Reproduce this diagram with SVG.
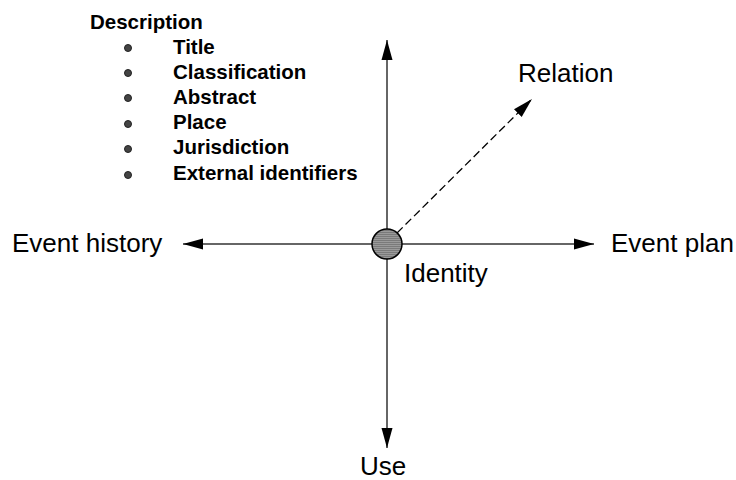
<svg xmlns="http://www.w3.org/2000/svg" width="736" height="480" viewBox="0 0 736 480">
  <style>
    .lbl { font-family: "Liberation Sans", Arial, sans-serif; font-size: 26px; fill: #000; }
    .desc { font-family: "Liberation Sans", Arial, sans-serif; font-size: 20.5px; font-weight: bold; fill: #000; }
    .axis { stroke: #333; stroke-width: 1.5; fill: none; }
    .dash { stroke: #000; stroke-width: 1.3; stroke-dasharray: 8 4; fill: none; }
    .bullet { fill: #444; stroke: #222; stroke-width: 1; }
  </style>
  <defs>
    <marker id="arr" viewBox="0 0 20 12" refX="20" refY="6" markerWidth="20" markerHeight="12" markerUnits="userSpaceOnUse" orient="auto">
      <path d="M0,0.5 L20,6 L0,11.5 Z" fill="#000"/>
    </marker>
    <pattern id="hatch" width="4" height="2" patternUnits="userSpaceOnUse">
      <rect width="4" height="2" fill="#9a9a9a"/>
      <rect width="4" height="1" fill="#7a7a7a"/>
    </pattern>
  </defs>
  <rect width="736" height="480" fill="#fff"/>

  <g id="connectors">
    <line class="axis" x1="387" y1="244" x2="387" y2="40" marker-end="url(#arr)"/>
    <line class="axis" x1="387" y1="244" x2="387" y2="448" marker-end="url(#arr)"/>
    <line class="axis" x1="387" y1="244" x2="183" y2="244" marker-end="url(#arr)"/>
    <line class="axis" x1="387" y1="244" x2="594" y2="244" marker-end="url(#arr)"/>
    <line class="dash" x1="397" y1="233" x2="532" y2="99" marker-end="url(#arr)"/>
  </g>

  <g id="identity">
    <circle cx="387" cy="244" r="15" fill="url(#hatch)" stroke="#000" stroke-width="1.5"/>
    <text class="lbl" x="404" y="282">Identity</text>
  </g>

  <g id="relation">
    <text class="lbl" x="518" y="82">Relation</text>
  </g>

  <g id="event-history">
    <text class="lbl" x="12" y="252">Event history</text>
  </g>

  <g id="event-plan">
    <text class="lbl" x="611" y="252">Event plan</text>
  </g>

  <g id="use">
    <text class="lbl" x="360" y="475">Use</text>
  </g>

  <g id="description">
    <text class="desc" x="90" y="29">Description</text>
    <circle class="bullet" cx="128" cy="48" r="3.5"/>
    <text class="desc" x="173" y="54">Title</text>
    <circle class="bullet" cx="128" cy="73" r="3.5"/>
    <text class="desc" x="173" y="79">Classification</text>
    <circle class="bullet" cx="128" cy="98" r="3.5"/>
    <text class="desc" x="173" y="104">Abstract</text>
    <circle class="bullet" cx="128" cy="124" r="3.5"/>
    <text class="desc" x="173" y="129">Place</text>
    <circle class="bullet" cx="128" cy="149" r="3.5"/>
    <text class="desc" x="173" y="154">Jurisdiction</text>
    <circle class="bullet" cx="128" cy="175" r="3.5"/>
    <text class="desc" x="173" y="180">External identifiers</text>
  </g>
</svg>
